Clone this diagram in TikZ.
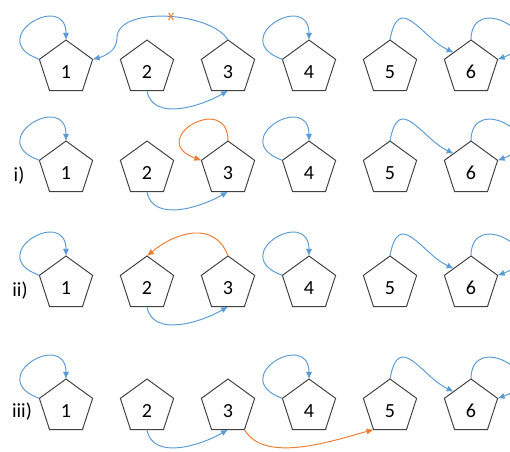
\documentclass[tikz,border=0pt]{standalone}
\usepackage{fontspec}
\setmainfont{Carlito}
\usepackage{tikz}
\usetikzlibrary{calc}
\usetikzlibrary{shapes.geometric}
\usetikzlibrary{arrows.meta}
\definecolor{hopblue}{RGB}{91,155,213}
\definecolor{hoporange}{RGB}{237,125,49}
\definecolor{pentgray}{RGB}{64,64,64}

\begin{document}
\begin{tikzpicture}[x=0.02cm, y=0.02cm,
        pent/.style={regular polygon, regular polygon sides=5, draw=pentgray, line width=0.55pt,
            minimum size=1.12cm, inner sep=0pt, outer sep=0pt,
            font=\fontsize{11.4}{13}\selectfont, text height=11.9pt, text depth=0pt},
        hop/.style={draw=hopblue, line width=0.55pt, -{Latex[length=4pt,width=3.5pt]}},
        newhop/.style={hop, draw=hoporange},
        rowlabel/.style={font=\fontsize{11.4}{13}\selectfont}]
            \clip (0,0) rectangle (510,-451);

            \draw (66,-68) node[pent] (P11) {1};
            \draw ($(P11) + (0:81)$) node[pent] (P12) {2};
            \draw ($(P12) + (0:81)$) node[pent] (P13) {3};
            \draw ($(P13) + (0:81)$) node[pent] (P14) {4};
            \draw ($(P14) + (0:81)$) node[pent] (P15) {5};
            \draw ($(P15) + (0:81)$) node[pent] (P16) {6};

            \draw (66,-169) node[pent] (P21) {1};
            \draw ($(P21) + (0:81)$) node[pent] (P22) {2};
            \draw ($(P22) + (0:81)$) node[pent] (P23) {3};
            \draw ($(P23) + (0:81)$) node[pent] (P24) {4};
            \draw ($(P24) + (0:81)$) node[pent] (P25) {5};
            \draw ($(P25) + (0:81)$) node[pent] (P26) {6};

            \draw (66,-284) node[pent] (P31) {1};
            \draw ($(P31) + (0:81)$) node[pent] (P32) {2};
            \draw ($(P32) + (0:81)$) node[pent] (P33) {3};
            \draw ($(P33) + (0:81)$) node[pent] (P34) {4};
            \draw ($(P34) + (0:81)$) node[pent] (P35) {5};
            \draw ($(P35) + (0:81)$) node[pent] (P36) {6};

            \draw (66,-407) node[pent] (P41) {1};
            \draw ($(P41) + (0:81)$) node[pent] (P42) {2};
            \draw ($(P42) + (0:81)$) node[pent] (P43) {3};
            \draw ($(P43) + (0:81)$) node[pent] (P44) {4};
            \draw ($(P44) + (0:81)$) node[pent] (P45) {5};
            \draw ($(P45) + (0:81)$) node[pent] (P46) {6};

            \draw (19,-176) node[rowlabel] (L2) {i)};
            \draw (20,-291) node[rowlabel] (L3) {ii)};
            \draw (22,-412) node[rowlabel] (L4) {iii)};

            \draw[hop] (P11.corner 2) .. controls +(160:60) and +(90:50) .. (P11.corner 1);
            \draw[hop] (P12.south) to[out=-80, in=-150] (P13.south);
            \draw[hop] (P13.corner 1) to[out=120, in=90, looseness=0.75]
                node[pos=0.47, inner sep=0pt, text=hoporange, font=\fontsize{8.5}{9}\selectfont] (cut) {x}
                ($(P11) + (51,30)$) to[out=-90, in=15] (P11.corner 5);
            \draw[hop] (P14.corner 2) .. controls +(160:60) and +(90:50) .. (P14.corner 1);
            \draw[hop] (P15.corner 1) .. controls +(80:50) and +(155:35) .. ($(P16.corner 2)!0.35!(P16.corner 1)$);
            \draw[hop] (P16.corner 1) .. controls +(90:50) and +(20:60) .. (P16.corner 5);

            \draw[hop] (P21.corner 2) .. controls +(160:60) and +(90:50) .. (P21.corner 1);
            \draw[hop] (P22.south) to[out=-80, in=-150] (P23.south);
            \draw[newhop] (P23.corner 1) .. controls +(90:50) and +(160:60) .. (P23.corner 2);
            \draw[hop] (P24.corner 2) .. controls +(160:60) and +(90:50) .. (P24.corner 1);
            \draw[hop] (P25.corner 1) .. controls +(80:50) and +(155:35) .. ($(P26.corner 2)!0.35!(P26.corner 1)$);
            \draw[hop] (P26.corner 1) .. controls +(90:50) and +(20:60) .. (P26.corner 5);

            \draw[hop] (P31.corner 2) .. controls +(160:60) and +(90:50) .. (P31.corner 1);
            \draw[hop] (P32.south) to[out=-80, in=-150] (P33.south);
            \draw[newhop] (P33.corner 1) to[out=110, in=40, looseness=1.2] (P32.corner 1);
            \draw[hop] (P34.corner 2) .. controls +(160:60) and +(90:50) .. (P34.corner 1);
            \draw[hop] (P35.corner 1) .. controls +(80:50) and +(155:35) .. ($(P36.corner 2)!0.35!(P36.corner 1)$);
            \draw[hop] (P36.corner 1) .. controls +(90:50) and +(20:60) .. (P36.corner 5);

            \draw[hop] (P41.corner 2) .. controls +(160:60) and +(90:50) .. (P41.corner 1);
            \draw[hop] (P42.south) to[out=-80, in=-150] (P43.south);
            \draw[newhop] (P43.corner 4) to[out=-60, in=-165, looseness=0.8] (P45.corner 3);
            \draw[hop] (P44.corner 2) .. controls +(160:60) and +(90:50) .. (P44.corner 1);
            \draw[hop] (P45.corner 1) .. controls +(80:50) and +(155:35) .. ($(P46.corner 2)!0.35!(P46.corner 1)$);
            \draw[hop] (P46.corner 1) .. controls +(90:50) and +(20:60) .. (P46.corner 5);
        \end{tikzpicture}
\end{document}
